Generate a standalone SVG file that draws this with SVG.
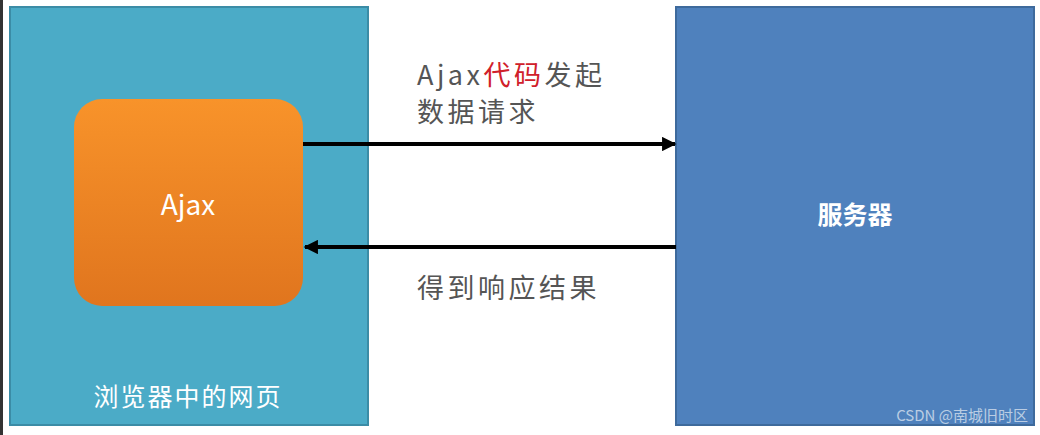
<svg xmlns="http://www.w3.org/2000/svg" width="1040" height="435" viewBox="0 0 1040 435">
  <style>
    .cjk { font-family: "Noto Sans CJK SC", "Noto Sans", sans-serif; }
    .lbl { fill: #555555; font-size: 27px; letter-spacing: 3.5px; }
    .white { fill: #ffffff; }
    .conn { stroke: #000000; stroke-width: 4; fill: none; }
  </style>
  <defs>
    <linearGradient id="orange" x1="0" y1="0" x2="0" y2="1">
      <stop offset="0" stop-color="#F8932A"/>
      <stop offset="1" stop-color="#E0751E"/>
    </linearGradient>
    <marker id="arrow" viewBox="0 0 10 10" refX="9" refY="5" markerWidth="4.8" markerHeight="3.6" orient="auto" markerUnits="strokeWidth">
      <path d="M0,0 L10,5 L0,10 Z" fill="#000000"/>
    </marker>
  </defs>
  <rect x="0" y="0" width="1040" height="435" fill="#ffffff"/>
  <rect x="0" y="0" width="3" height="435" fill="#333333"/>

  <g id="browser">
    <rect x="10" y="7" width="358" height="418" fill="#4BABC7" stroke="#3B8CA6" stroke-width="2"/>
    <text class="cjk white" x="188" y="406" font-size="25" letter-spacing="2" text-anchor="middle">浏览器中的网页</text>
  </g>

  <g id="ajax">
    <rect x="74" y="99" width="229" height="207" rx="28" fill="url(#orange)"/>
    <text class="cjk white" x="188" y="215" font-size="28" text-anchor="middle">Ajax</text>
  </g>

  <g id="server">
    <rect x="676" y="7" width="358" height="418" fill="#4F81BD" stroke="#3E6A9C" stroke-width="2"/>
    <text class="cjk white" x="855" y="224" font-size="25" font-weight="bold" text-anchor="middle">服务器</text>
    <text class="cjk" x="1028" y="421" font-size="15" fill="#d8e2ee" fill-opacity="0.8" text-anchor="end">CSDN @南城旧时区</text>
  </g>

  <g id="connectors">
    <line class="conn" x1="303" y1="144" x2="675" y2="144" marker-end="url(#arrow)"/>
    <line class="conn" x1="676" y1="247" x2="305" y2="247" marker-end="url(#arrow)"/>
  </g>

  <g id="labels">
    <text class="cjk lbl" x="417" y="85">Ajax<tspan fill="#D0202A">代码</tspan>发起</text>
    <text class="cjk lbl" x="417" y="122">数据请求</text>
    <text class="cjk lbl" x="417" y="298">得到响应结果</text>
  </g>
</svg>
